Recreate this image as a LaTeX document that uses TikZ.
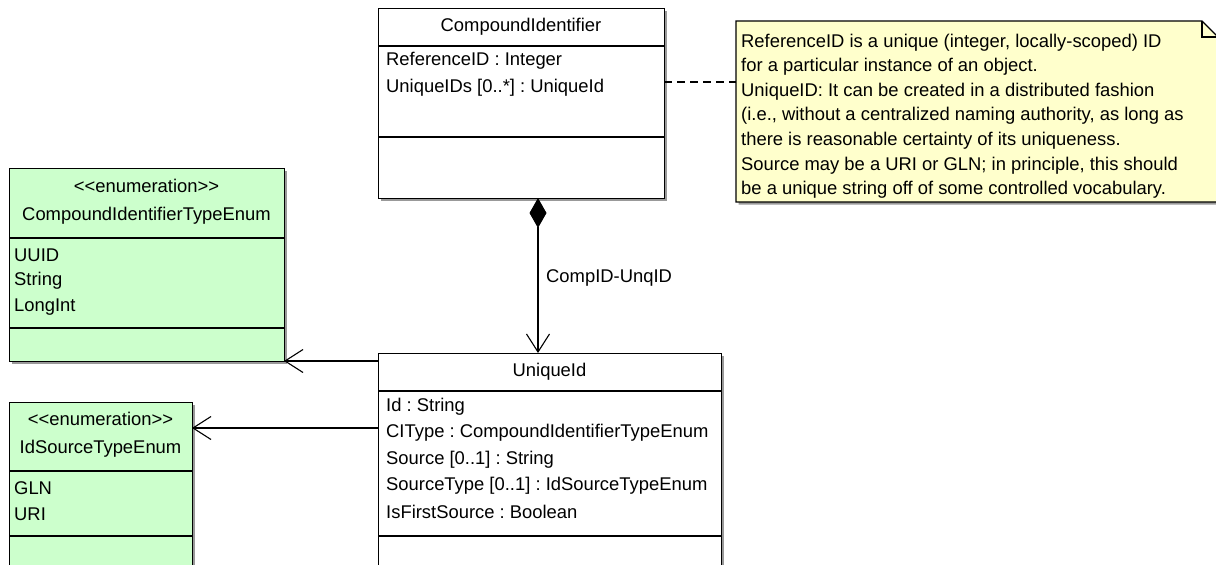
\documentclass[tikz,border=0pt]{standalone}
\usepackage{fontspec}
\setmainfont{Liberation Sans}
\usetikzlibrary{arrows.meta,shadows}
\definecolor{enumfill}{RGB}{204,255,204}
\definecolor{notefill}{RGB}{255,255,204}
\frenchspacing
\begin{document}
\begin{tikzpicture}[x=1pt,y=-1pt,
  txt/.style={font=\fontsize{18.4}{21}\selectfont, inner sep=0pt},
  attr/.style={txt, anchor=west},
  ttl/.style={txt, anchor=center},
  boxshadow/.style={drop shadow={shadow xshift=2.5pt, shadow yshift=-2.5pt, opacity=0.4, fill=black}},
  classbox/.style={draw=black, line width=1.1pt, fill=white, anchor=north west, inner sep=0pt, boxshadow},
  enumbox/.style={classbox, fill=enumfill},
  divider/.style={draw=black, line width=1.1pt},
  link/.style={draw=black, line width=1.1pt},
  openhead/.style={-{Straight Barb[length=18pt,width=23pt,line width=1.1pt]}},
]
\useasboundingbox (0,0) rectangle (1216,565);
\clip (0,0) rectangle (1216,565);

% ---- CompoundIdentifier
\node[classbox, minimum width=286pt, minimum height=190pt] (ci) at (378,8) {};
\node[ttl] (citl) at (521,27) {CompoundIdentifier};
\draw[divider] (378,46) -- (664,46);
\draw[divider] (378,137) -- (664,137);
\node[attr] (ci1) at (386,61) {ReferenceID : Integer};
\node[attr] (ci2) at (386,88) {UniqueIDs [0..*] : UniqueId};

% ---- Note
\path[draw=black, line width=1.1pt, fill=notefill, boxshadow]
  (736,21) -- (1202,21) -- (1218,37) -- (1218,202) -- (736,202) -- cycle;
\draw[line width=1.1pt] (1202,21) -- (1202,37) -- (1218,37);
\node[txt, anchor=north west, align=left, font=\fontsize{18.4}{24.6}\selectfont] (note) at (741,33.5)
{ReferenceID is a unique (integer, locally-scoped) ID\\
for a particular instance of an object.\\
UniqueID: It can be created in a distributed fashion\\
(i.e., without a centralized naming authority, as long as\\
there is reasonable certainty of its uniqueness.\\
Source may be a URI or GLN; in principle, this should\\
be a unique string off of some controlled vocabulary.};
\coordinate (noteanchor) at (736,82);
\coordinate (cianchor) at (664,82);
\draw[link, dash pattern=on 8pt off 5pt] (cianchor) -- (noteanchor);

% ---- CompoundIdentifierTypeEnum
\node[enumbox, minimum width=275pt, minimum height=193pt] (cite) at (9,168) {};
\node[ttl] (cites) at (146.5,186) {<{}<enumeration>{}>};
\node[ttl] (citet) at (146.5,216) {CompoundIdentifierTypeEnum};
\draw[divider] (9,238) -- (284,238);
\draw[divider] (9,328) -- (284,328);
\node[attr] (cite1) at (14,255) {UUID};
\node[attr] (cite2) at (14,281) {String};
\node[attr] (cite3) at (14,307) {LongInt};

% ---- IdSourceTypeEnum
\node[enumbox, minimum width=183pt, minimum height=200pt] (iste) at (9,402) {};
\node[ttl] (istes) at (100.5,419) {<{}<enumeration>{}>};
\node[ttl] (istet) at (100.5,449) {IdSourceTypeEnum};
\draw[divider] (9,471) -- (192,471);
\draw[divider] (9,536) -- (192,536);
\node[attr] (iste1) at (14,488) {GLN};
\node[attr] (iste2) at (14,514) {URI};

% ---- UniqueId
\node[classbox, minimum width=343pt, minimum height=240pt] (uid) at (378,353) {};
\node[ttl] (uidt) at (549.5,372) {UniqueId};
\draw[divider] (378,391) -- (721,391);
\draw[divider] (378,536) -- (721,536);
\node[attr] (u1) at (386,407) {Id : String};
\node[attr] (u2) at (386,433) {CIType : CompoundIdentifierTypeEnum};
\node[attr] (u3) at (386,460) {Source [0..1] : String};
\node[attr] (u4) at (386,486) {SourceType [0..1] : IdSourceTypeEnum};
\node[attr] (u5) at (386,512) {IsFirstSource : Boolean};

% ---- connectors
\coordinate (compsrc) at (538,198);
\coordinate (comptgt) at (538,353);
\draw[link, {Diamond[length=30pt,width=17pt]}-{Straight Barb[length=18pt,width=23pt,line width=1.1pt]}] (compsrc) -- (comptgt);
\node[attr] (complbl) at (546,278) {CompID-UnqID};

\coordinate (a1s) at (378,361);
\coordinate (a1t) at (284,361);
\draw[link, openhead] (a1s) -- (a1t);
\coordinate (a2s) at (378,428);
\coordinate (a2t) at (192,428);
\draw[link, openhead] (a2s) -- (a2t);
\end{tikzpicture}
\end{document}
